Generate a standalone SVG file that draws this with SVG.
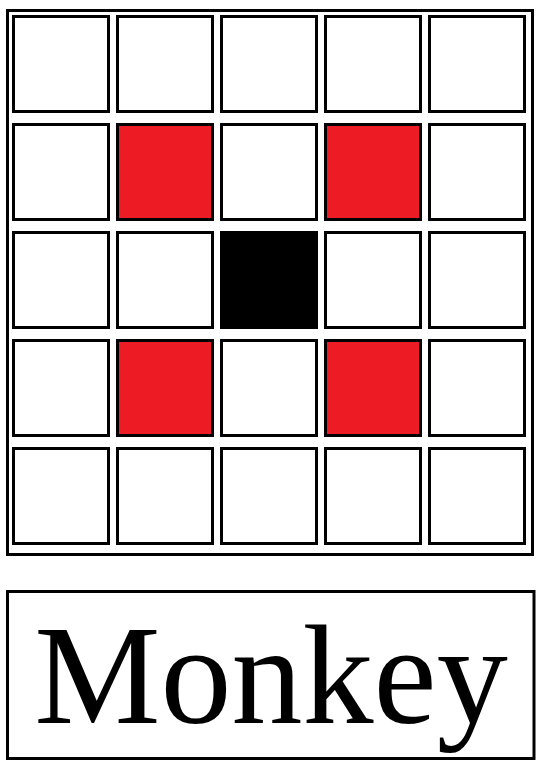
<svg xmlns="http://www.w3.org/2000/svg" width="552" height="777" viewBox="0 0 552 777">
<style>
.cell{stroke:#000;stroke-width:3;fill:#fff}
.red{fill:#ED1C24}
.blk{fill:#000}
.frame{fill:#fff;stroke:#000;stroke-width:3}
.lbl{font-family:"Liberation Serif","Times New Roman",serif;font-size:142px;fill:#000}
</style>
<rect width="552" height="777" fill="#fff"/>
<g id="grid">
<rect class="frame" x="7.5" y="10.5" width="525" height="544"/>
<g id="row1">
<rect class="cell" x="13.5" y="16.5" width="95" height="95"/>
<rect class="cell" x="117.5" y="16.5" width="95" height="95"/>
<rect class="cell" x="221.5" y="16.5" width="95" height="95"/>
<rect class="cell" x="325.5" y="16.5" width="95" height="95"/>
<rect class="cell" x="429.5" y="16.5" width="95" height="95"/>
</g>
<g id="row2">
<rect class="cell" x="13.5" y="124.5" width="95" height="95"/>
<rect class="cell red" x="117.5" y="124.5" width="95" height="95"/>
<rect class="cell" x="221.5" y="124.5" width="95" height="95"/>
<rect class="cell red" x="325.5" y="124.5" width="95" height="95"/>
<rect class="cell" x="429.5" y="124.5" width="95" height="95"/>
</g>
<g id="row3">
<rect class="cell" x="13.5" y="232.5" width="95" height="95"/>
<rect class="cell" x="117.5" y="232.5" width="95" height="95"/>
<rect class="cell blk" x="221.5" y="232.5" width="95" height="95"/>
<rect class="cell" x="325.5" y="232.5" width="95" height="95"/>
<rect class="cell" x="429.5" y="232.5" width="95" height="95"/>
</g>
<g id="row4">
<rect class="cell" x="13.5" y="340.5" width="95" height="95"/>
<rect class="cell red" x="117.5" y="340.5" width="95" height="95"/>
<rect class="cell" x="221.5" y="340.5" width="95" height="95"/>
<rect class="cell red" x="325.5" y="340.5" width="95" height="95"/>
<rect class="cell" x="429.5" y="340.5" width="95" height="95"/>
</g>
<g id="row5">
<rect class="cell" x="13.5" y="448.5" width="95" height="95"/>
<rect class="cell" x="117.5" y="448.5" width="95" height="95"/>
<rect class="cell" x="221.5" y="448.5" width="95" height="95"/>
<rect class="cell" x="325.5" y="448.5" width="95" height="95"/>
<rect class="cell" x="429.5" y="448.5" width="95" height="95"/>
</g>
</g>
<g id="label">
<rect class="frame" x="7.5" y="591.5" width="526.5" height="167"/>
<text class="lbl" x="271" y="723" text-anchor="middle">Monkey</text>
</g>
<g id="connectors"/>
</svg>
